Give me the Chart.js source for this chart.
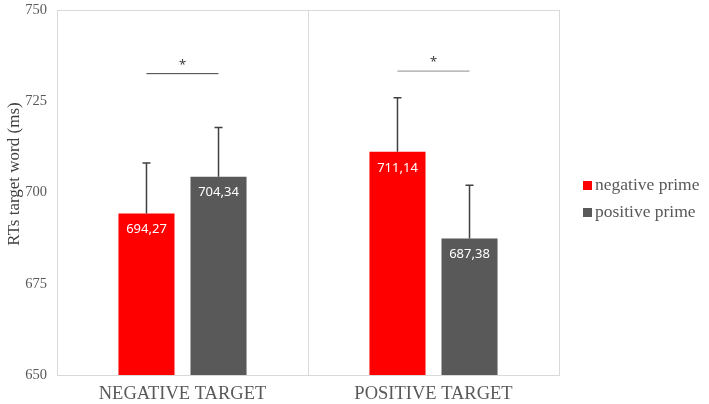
<!DOCTYPE html>
<html>
<head>
<meta charset="utf-8">
<script src="https://cdn.jsdelivr.net/npm/chart.js@4"></script>
<style>
  html, body { margin: 0; padding: 0; background: #fff; }
  #Lienzo { display: block; }
</style>
</head>
<body>
<canvas id="Lienzo" width="709" height="404"></canvas>
<script>
const Categorias   = ['NEGATIVE TARGET', 'POSITIVE TARGET'];
const PrimeNeg     = [694.27, 711.14];
const PrimePos     = [704.34, 687.38];
const ErrorNeg     = [13.8, 14.8];
const ErrorPos     = [13.5, 14.6];
const NivelSignif  = [732.7, 733.4];
const MarcaSignif  = ['*', '*'];
const TicksY       = [650, 675, 700, 725, 750];

const Serif = '"Liberation Serif", "Times New Roman", serif';
const Gris  = '#595959';
const Borde = '#d9d9d9';

const FormatearComa = V => V.toFixed(2).replace('.', ',');

const Extras = {
  id: 'Extras',
  afterDatasetsDraw(Ch) {
    const Ctx = Ch.ctx;
    const Y = Ch.scales.y;
    const Errores = [ErrorNeg, ErrorPos];

    Ch.data.datasets.forEach((Ds, I) => {
      const Meta = Ch.getDatasetMeta(I);
      Meta.data.forEach((El, J) => {
        // barra de error (solo hacia arriba)
        const Tope = Y.getPixelForValue(Ds.data[J] + Errores[I][J]);
        Ctx.save();
        Ctx.strokeStyle = '#404040';
        Ctx.lineWidth = 1.5;
        Ctx.beginPath();
        Ctx.moveTo(El.x, El.y);
        Ctx.lineTo(El.x, Tope);
        Ctx.moveTo(El.x - 4, Tope);
        Ctx.lineTo(El.x + 4, Tope);
        Ctx.stroke();

        // etiqueta de valor
        Ctx.fillStyle = '#ffffff';
        Ctx.font = '13px "Noto Sans", sans-serif';
        Ctx.textAlign = 'center';
        Ctx.textBaseline = 'middle';
        Ctx.fillText(FormatearComa(Ds.data[J]), El.x, El.y + 16);
        Ctx.restore();
      });
    });

    // lineas de significancia
    const M0 = Ch.getDatasetMeta(0), M1 = Ch.getDatasetMeta(1);
    NivelSignif.forEach((Nivel, J) => {
      const Py = Y.getPixelForValue(Nivel);
      Ctx.save();
      Ctx.strokeStyle = J === 0 ? '#404040' : '#8c8c8c';
      Ctx.lineWidth = 1;
      Ctx.beginPath();
      Ctx.moveTo(M0.data[J].x, Py + 0.5);
      Ctx.lineTo(M1.data[J].x, Py + 0.5);
      Ctx.stroke();
      Ctx.fillStyle = '#404040';
      Ctx.font = '13px "Noto Sans", sans-serif';
      Ctx.textAlign = 'center';
      Ctx.textBaseline = 'middle';
      Ctx.fillText(MarcaSignif[J], (M0.data[J].x + M1.data[J].x) / 2, Py - 8);
      Ctx.restore();
    });
  },
  afterDraw(Ch) {
    const Ctx = Ch.ctx;
    // titulo eje Y
    Ctx.save();
    Ctx.translate(15, 174);
    Ctx.rotate(-Math.PI / 2);
    Ctx.fillStyle = '#404040';
    Ctx.font = '17px ' + Serif;
    Ctx.textAlign = 'center';
    Ctx.textBaseline = 'middle';
    Ctx.fillText('RTs target word (ms)', 0, 0);
    Ctx.restore();

    // leyenda
    Ch.data.datasets.forEach((Ds, I) => {
      const Fy = 185 + I * 27;
      Ctx.save();
      Ctx.fillStyle = Ds.backgroundColor;
      Ctx.fillRect(583, Fy - 4, 9, 9);
      Ctx.fillStyle = Gris;
      Ctx.font = '17.5px ' + Serif;
      Ctx.textAlign = 'left';
      Ctx.textBaseline = 'middle';
      Ctx.fillText(Ds.label, 595, Fy);
      Ctx.restore();
    });
  }
};

new Chart(document.getElementById('Lienzo').getContext('2d'), {
  type: 'bar',
  data: {
    labels: Categorias,
    datasets: [
      { label: 'negative prime', data: PrimeNeg, backgroundColor: '#ff0000' },
      { label: 'positive prime', data: PrimePos, backgroundColor: Gris }
    ]
  },
  options: {
    responsive: false,
    devicePixelRatio: 1,
    animation: false,
    categoryPercentage: 0.574,
    barPercentage: 0.778,
    layout: { padding: { top: 10, right: 150, left: 0, bottom: 0 } },
    plugins: { legend: { display: false }, tooltip: { enabled: false } },
    scales: {
      x: {
        offset: true,
        grid: { offset: true, color: Borde, drawTicks: false },
        border: { color: Borde },
        ticks: { color: Gris, padding: 8, font: { family: Serif, size: 18.5 } },
        afterFit: S => { S.height = 29; S.paddingLeft = 0; S.paddingRight = 0; }
      },
      y: {
        min: 650,
        max: 750,
        afterBuildTicks: S => { S.ticks = TicksY.map(V => ({ value: V })); },
        grid: {
          drawTicks: false,
          color: C => C.tick && C.tick.value === 750 ? Borde : 'rgba(0,0,0,0)'
        },
        border: { color: Borde },
        ticks: { color: Gris, padding: 10, font: { family: Serif, size: 14.5 } },
        afterFit: S => { S.width = 57; S.paddingTop = 0; S.paddingBottom = 0; }
      }
    }
  },
  plugins: [Extras]
});
</script>
</body>
</html>
